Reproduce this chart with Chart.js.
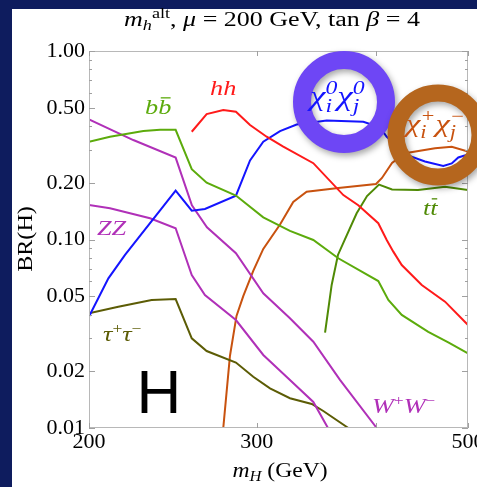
<!DOCTYPE html>
<html lang="en">
<head>
<meta charset="UTF-8">
<title>BR(H)</title>
<style>
  body { margin: 0; background: #0e1c5e; }
  #wrap { width: 477px; height: 487px; }
</style>
</head>
<body>
<div id="wrap"><canvas id="br"></canvas></div>
<script src="https://cdn.jsdelivr.net/npm/chart.js/dist/chart.umd.min.js"></script>
<script>
// heavy Higgs mass m_H (GeV) and branching ratios
const bbMass = [200, 210.4, 228.1, 237.5, 246.6, 256.4, 265.8, 285.3, 304.8, 325.1, 344.0, 365.4, 402.5, 412.4, 426.0, 454.2, 476.7, 500];
const bbBR   = [0.330, 0.351, 0.376, 0.382, 0.382, 0.236, 0.200, 0.171, 0.131, 0.111, 0.0994, 0.0795, 0.0602, 0.0478, 0.0398, 0.0324, 0.0285, 0.0249];

const hhMass = [256.4, 265.8, 276.7, 285.3, 295.2, 307.3, 319.9, 344.0, 369.9, 383.5, 402.5, 410.8, 417.4, 426.0, 447.1, 473.0, 500];
const hhBR   = [0.373, 0.463, 0.486, 0.476, 0.405, 0.351, 0.311, 0.254, 0.172, 0.152, 0.122, 0.0994, 0.0862, 0.0732, 0.0574, 0.0468, 0.0352];

const neuMass = [200, 209.6, 218.2, 246.6, 256.4, 264.7, 285.3, 295.2, 304.8, 317.4, 330.4, 355.3, 388.2, 404.2, 410.8, 431.1, 450.6, 471.0, 480.7, 488.4, 500];
const neuBR   = [0.039, 0.0622, 0.0828, 0.1815, 0.1422, 0.1451, 0.1708, 0.2625, 0.330, 0.376, 0.4075, 0.428, 0.4216, 0.3937, 0.351, 0.2808, 0.2594, 0.2455, 0.2531, 0.2723, 0.2825];

const wwMass = [200, 222.6, 246.6, 256.5, 266.0, 285.3, 304.8, 325.1, 344.0, 366.9, 401.0];
const wwBR   = [0.434, 0.337, 0.272, 0.152, 0.116, 0.0845, 0.0518, 0.0382, 0.0287, 0.018, 0.01];

const zzMass = [200, 210.4, 231.8, 246.6, 256.4, 264.7, 285.3, 304.8, 322.6, 344.0, 356.4];
const zzBR   = [0.1524, 0.1464, 0.1296, 0.1147, 0.0648, 0.0508, 0.0374, 0.0244, 0.01864, 0.01374, 0.01];

const tauMass = [200, 214.7, 232.7, 246.6, 256.4, 265.8, 285.3, 297.5, 309.8, 325.1, 342.7, 352.4, 374.4];
const tauBR   = [0.0406, 0.0440, 0.0478, 0.0483, 0.0299, 0.0256, 0.02225, 0.01871, 0.01624, 0.01438, 0.01341, 0.01231, 0.01];

const chaMass = [276.7, 281.2, 285.7, 290.4, 297.5, 304.8, 317.4, 327.7, 338.5, 365.4, 400.3, 406.1, 416.1, 429.4, 461.7, 480.7, 500];
const chaBR   = [0.01, 0.0241, 0.0393, 0.0501, 0.0681, 0.0891, 0.1201, 0.1581, 0.1793, 0.1876, 0.197, 0.212, 0.2545, 0.2867, 0.3047, 0.3107, 0.293];

const ttMass = [353.9, 359.6, 365.1, 371.3, 382.0, 391.7, 403.2, 416.1, 443.1, 473.0, 500];
const ttBR   = [0.0321, 0.0574, 0.0828, 0.1002, 0.1377, 0.1701, 0.1957, 0.1842, 0.1831, 0.1906, 0.1831];

const xTicks = [200, 300, 400, 500];
const xLabels = ['200', '300', '', '500'];
const yTicks = [0.01, 0.02, 0.05, 0.1, 0.2, 0.5, 1];
const yMinor = [0.01, 0.02, 0.03, 0.04, 0.05, 0.06, 0.07, 0.08, 0.09, 0.1, 0.2, 0.3, 0.4, 0.5, 0.6, 0.7, 0.8, 0.9, 1];

const GREEN = '#5cab0c', DKGREEN = '#4f8a05', RED = '#ff1a1a', BLUE = '#1414ff',
      PURPLE = '#b030b8', OLIVE = '#5c5c05', ORANGE = '#c8520f';
const SERIF = '"Liberation Serif", "Times New Roman", serif';

const pts = (xs, ys) => xs.map((x, i) => ({ x: x, y: ys[i] }));
const line = (data, color) => ({ data: data, borderColor: color, borderWidth: 2, pointRadius: 0, fill: false, tension: 0 });

// text with italic / sub / sup / stacked indices / overbar, stretched sideways like the original
function rich(ctx, parts, x, y, size, align, sx) {
  sx = sx || 1.25;
  const small = Math.round(size * 0.68);
  const f = (it, s) => (it ? 'italic ' : '') + s + 'px ' + SERIF;
  const widthOf = p => {
    if (p.stack) {
      ctx.font = f(true, small);
      return Math.max(...p.stack.map(s => ctx.measureText(s).width));
    }
    ctx.font = f(p.i, (p.sub || p.sup) ? small : size);
    return ctx.measureText(p.t).width;
  };
  const total = parts.reduce((s, p) => s + widthOf(p), 0);
  ctx.save();
  ctx.translate(align === 'center' ? x - total * sx / 2 : x, y);
  ctx.scale(sx, 1);
  let cx = 0;
  parts.forEach(p => {
    const w = widthOf(p);
    if (p.stack) {
      ctx.fillText(p.stack[0], cx, -size * 0.4);
      ctx.fillText(p.stack[1], cx, size * 0.24);
    } else {
      ctx.fillText(p.t, cx, p.sub ? size * 0.22 : p.sup ? -size * 0.38 : 0);
      if (p.bar) ctx.fillRect(cx + w * 0.2, -size * 0.8, w * 0.75, 1.3);
    }
    cx += w;
  });
  ctx.restore();
}

const deco = {
  id: 'deco',
  beforeDraw(chart) {
    const { ctx, width, height } = chart;
    ctx.save();
    ctx.fillStyle = '#0e1c5e';
    ctx.fillRect(0, 0, width, height);
    ctx.fillStyle = '#ffffff';
    ctx.fillRect(12, 9, width - 12, height - 9);
    ctx.restore();
  },
  afterDatasetsDraw(chart) {
    const { ctx, chartArea: a, scales: { x, y } } = chart;
    ctx.save();
    // frame with inward ticks
    ctx.strokeStyle = '#b8b8b8';
    ctx.lineWidth = 1;
    ctx.strokeRect(a.left + 0.5, a.top + 0.5, a.width - 1, a.height - 1);
    ctx.strokeStyle = '#a0a0a0';
    ctx.beginPath();
    yMinor.forEach(v => {
      const py = Math.round(y.getPixelForValue(v)) + 0.5;
      const len = yTicks.includes(v) ? 6 : 3;
      ctx.moveTo(a.left, py); ctx.lineTo(a.left + len, py);
      ctx.moveTo(a.right, py); ctx.lineTo(a.right - len, py);
    });
    xTicks.forEach(v => {
      const px = Math.round(x.getPixelForValue(v)) + 0.5;
      ctx.moveTo(px, a.bottom); ctx.lineTo(px, a.bottom - 5);
      ctx.moveTo(px, a.top); ctx.lineTo(px, a.top + 5);
    });
    ctx.stroke();

    // highlight rings
    const ring = (cx, cy, r, w, color) => {
      ctx.save();
      ctx.shadowColor = 'rgba(0,0,0,0.35)';
      ctx.shadowBlur = 6;
      ctx.shadowOffsetX = 2;
      ctx.shadowOffsetY = 3;
      ctx.strokeStyle = color;
      ctx.lineWidth = w;
      ctx.beginPath();
      ctx.arc(cx, cy, r, 0, Math.PI * 2);
      ctx.stroke();
      ctx.restore();
    };
    ring(344, 102, 42, 18, '#6e46f5');
    ring(438, 135, 42, 17, '#b5661e');
    ctx.restore();
  },
  afterDraw(chart) {
    const { ctx } = chart;
    ctx.save();
    ctx.textBaseline = 'alphabetic';
    ctx.textAlign = 'left';

    ctx.fillStyle = '#000';
    rich(ctx, [{ t: 'm', i: 1 }, { t: 'h', i: 1, sub: 1 }, { t: 'alt', sup: 1 }, { t: ', ' }, { t: 'μ', i: 1 },
      { t: ' = 200 GeV, tan ' }, { t: 'β', i: 1 }, { t: ' = 4' }], 272, 26, 20, 'center', 1.3);
    rich(ctx, [{ t: 'm', i: 1 }, { t: 'H', i: 1, sub: 1 }, { t: ' (GeV)' }], 280, 477, 20, 'center', 1.18);

    ctx.save();
    ctx.translate(32, 239);
    ctx.rotate(-Math.PI / 2);
    rich(ctx, [{ t: 'BR(H)' }], 0, 0, 21, 'center', 1.15);
    ctx.restore();

    ctx.fillStyle = GREEN;
    rich(ctx, [{ t: 'b', i: 1 }, { t: 'b', i: 1, bar: 1 }], 145, 114, 21);
    ctx.fillStyle = RED;
    rich(ctx, [{ t: 'hh', i: 1 }], 210, 95, 21);
    ctx.fillStyle = PURPLE;
    rich(ctx, [{ t: 'ZZ', i: 1 }], 97, 235, 21);
    rich(ctx, [{ t: 'W', i: 1 }, { t: '+', sup: 1 }, { t: 'W', i: 1 }, { t: '−', sup: 1 }], 372, 413, 21);
    ctx.fillStyle = OLIVE;
    rich(ctx, [{ t: 'τ', i: 1 }, { t: '+', sup: 1 }, { t: 'τ', i: 1 }, { t: '−', sup: 1 }], 103, 341, 21);
    ctx.fillStyle = DKGREEN;
    rich(ctx, [{ t: 't', i: 1 }, { t: 't', i: 1, bar: 1 }], 423, 215, 21);

    ctx.fillStyle = BLUE;
    rich(ctx, [{ t: 'χ', i: 1 }, { stack: ['0', 'i'] }, { t: 'χ', i: 1 }, { stack: ['0', 'j'] }], 310, 105, 28);
    ctx.fillStyle = ORANGE;
    rich(ctx, [{ t: 'χ', i: 1 }, { stack: ['+', 'i'] }, { t: 'χ', i: 1 }, { stack: ['−', 'j'] }], 406, 132, 26);

    ctx.fillStyle = '#000';
    ctx.font = '62px "Liberation Sans", Arial, sans-serif';
    ctx.textAlign = 'center';
    ctx.fillText('H', 159, 413);
    ctx.restore();
  }
};

const brChart = new Chart(document.getElementById('br'), {
  type: 'line',
  data: {
    datasets: [
      line(pts(bbMass, bbBR), GREEN),
      line(pts(hhMass, hhBR), RED),
      line(pts(neuMass, neuBR), BLUE),
      line(pts(wwMass, wwBR), PURPLE),
      line(pts(zzMass, zzBR), PURPLE),
      line(pts(tauMass, tauBR), OLIVE),
      line(pts(chaMass, chaBR), ORANGE),
      line(pts(ttMass, ttBR), DKGREEN),
    ],
  },
  options: {
    responsive: true,
    maintainAspectRatio: false,
    animation: false,
    layout: { padding: { top: 51, right: 9, left: 0, bottom: 0 } },
    plugins: { legend: { display: false }, tooltip: { enabled: false } },
    scales: {
      x: {
        type: 'logarithmic',
        min: 200,
        max: 500,
        afterBuildTicks: s => { s.ticks = xTicks.map(v => ({ value: v })); },
        afterFit: s => { s.height = 59; s.paddingLeft = 0; s.paddingRight = 0; },
        grid: { display: false, drawTicks: false },
        border: { display: false },
        ticks: {
          callback: (v, i) => xLabels[i],
          color: '#000',
          font: { family: SERIF, size: 22 },
          padding: 1,
          maxRotation: 0,
          autoSkip: false,
        },
      },
      y: {
        type: 'logarithmic',
        min: 0.01,
        max: 1,
        afterBuildTicks: s => { s.ticks = yTicks.map(v => ({ value: v })); },
        afterFit: s => { s.width = 89; s.paddingTop = 0; s.paddingBottom = 0; },
        grid: { display: false, drawTicks: false },
        border: { display: false },
        ticks: {
          callback: v => Number(v).toFixed(2),
          color: '#000',
          font: { family: SERIF, size: 22 },
          padding: 4,
          autoSkip: false,
        },
      },
    },
  },
  plugins: [deco],
});
</script>
</body>
</html>
